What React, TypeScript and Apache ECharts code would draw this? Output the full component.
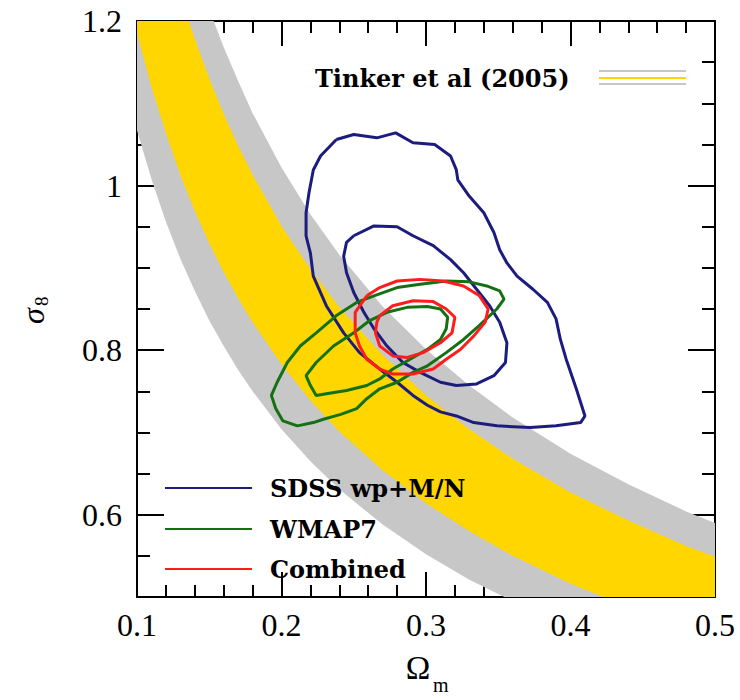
import React, { useEffect, useRef } from "react";
import * as echarts from "echarts";

// Omega_m grid on which the Tinker et al (2005) band edges are tabulated
const omegaGrid = [0.10, 0.11, 0.12, 0.13, 0.14, 0.15, 0.16, 0.17, 0.18, 0.20, 0.22, 0.24, 0.27, 0.30, 0.33, 0.36, 0.40, 0.44, 0.48, 0.50];
// sigma_8 at the edges of the outer (grey) and inner (yellow) bands
const grayLower = [1.067, 1.008, 0.956, 0.911, 0.872, 0.836, 0.805, 0.776, 0.750, 0.704, 0.665, 0.631, 0.588, 0.552, 0.521, 0.495, 0.464, 0.439, 0.416, 0.406];
const yellowLower = [1.186, 1.120, 1.064, 1.013, 0.969, 0.930, 0.895, 0.863, 0.834, 0.783, 0.739, 0.701, 0.654, 0.614, 0.580, 0.550, 0.516, 0.488, 0.463, 0.452];
const yellowUpper = [1.441, 1.361, 1.292, 1.231, 1.178, 1.130, 1.087, 1.048, 1.013, 0.951, 0.898, 0.852, 0.794, 0.745, 0.704, 0.668, 0.627, 0.593, 0.562, 0.549];
const grayUpper = [1.549, 1.463, 1.388, 1.323, 1.265, 1.214, 1.168, 1.127, 1.088, 1.022, 0.965, 0.916, 0.853, 0.801, 0.757, 0.718, 0.674, 0.637, 0.604, 0.590];

// Confidence contours, [Omega_m, sigma_8]
const sdssOuter = [[0.238, 1.056], [0.250, 1.062], [0.266, 1.058], [0.279, 1.064], [0.291, 1.052], [0.306, 1.050], [0.317, 1.036], [0.321, 1.019], [0.322, 1.007], [0.330, 0.987], [0.340, 0.967], [0.347, 0.943], [0.351, 0.922], [0.356, 0.906], [0.363, 0.890], [0.374, 0.874], [0.384, 0.858], [0.390, 0.838], [0.393, 0.813], [0.397, 0.789], [0.404, 0.753], [0.410, 0.720], [0.407, 0.712], [0.390, 0.708], [0.372, 0.706], [0.349, 0.708], [0.333, 0.712], [0.321, 0.720], [0.310, 0.725], [0.301, 0.733], [0.291, 0.745], [0.280, 0.761], [0.268, 0.777], [0.254, 0.797], [0.243, 0.821], [0.231, 0.854], [0.222, 0.890], [0.220, 0.918], [0.217, 0.939], [0.217, 0.967], [0.219, 0.991], [0.222, 1.019], [0.227, 1.036], [0.238, 1.056]];
const sdssInner = [[0.250, 0.939], [0.264, 0.951], [0.280, 0.950], [0.291, 0.939], [0.305, 0.927], [0.317, 0.910], [0.326, 0.894], [0.335, 0.874], [0.344, 0.854], [0.351, 0.834], [0.356, 0.809], [0.355, 0.785], [0.347, 0.769], [0.335, 0.759], [0.321, 0.757], [0.310, 0.761], [0.296, 0.773], [0.284, 0.785], [0.273, 0.805], [0.264, 0.826], [0.257, 0.846], [0.250, 0.870], [0.245, 0.894], [0.243, 0.914], [0.245, 0.931], [0.250, 0.939]];
const wmapOuter = [[0.264, 0.866], [0.280, 0.876], [0.296, 0.880], [0.314, 0.884], [0.330, 0.883], [0.342, 0.878], [0.351, 0.872], [0.354, 0.862], [0.349, 0.850], [0.337, 0.830], [0.326, 0.813], [0.314, 0.797], [0.301, 0.781], [0.291, 0.773], [0.280, 0.761], [0.268, 0.753], [0.259, 0.741], [0.252, 0.729], [0.241, 0.722], [0.229, 0.716], [0.222, 0.712], [0.211, 0.708], [0.201, 0.714], [0.196, 0.729], [0.193, 0.745], [0.197, 0.761], [0.204, 0.785], [0.213, 0.805], [0.224, 0.821], [0.238, 0.842], [0.252, 0.858], [0.264, 0.866]];
const wmapInner = [[0.273, 0.846], [0.287, 0.852], [0.301, 0.853], [0.310, 0.850], [0.315, 0.840], [0.314, 0.826], [0.310, 0.813], [0.301, 0.801], [0.289, 0.789], [0.277, 0.777], [0.268, 0.765], [0.259, 0.757], [0.245, 0.751], [0.231, 0.747], [0.224, 0.745], [0.220, 0.757], [0.217, 0.769], [0.224, 0.785], [0.236, 0.805], [0.250, 0.821], [0.261, 0.836], [0.273, 0.846]];
const combinedOuter = [[0.259, 0.866], [0.268, 0.876], [0.280, 0.884], [0.296, 0.886], [0.312, 0.884], [0.326, 0.878], [0.337, 0.866], [0.343, 0.850], [0.341, 0.834], [0.333, 0.817], [0.324, 0.801], [0.314, 0.789], [0.305, 0.777], [0.291, 0.771], [0.277, 0.771], [0.268, 0.777], [0.259, 0.789], [0.254, 0.805], [0.251, 0.821], [0.251, 0.846], [0.259, 0.866]];
const combinedInner = [[0.268, 0.842], [0.277, 0.854], [0.291, 0.860], [0.305, 0.859], [0.314, 0.850], [0.320, 0.840], [0.318, 0.821], [0.310, 0.809], [0.298, 0.797], [0.287, 0.791], [0.277, 0.793], [0.268, 0.805], [0.265, 0.821], [0.266, 0.834], [0.268, 0.842]];

const xTicks = [0.1, 0.2, 0.3, 0.4, 0.5];
const yMajorTicks = [0.6, 0.8, 1, 1.2];

const legendNames = ["SDSS wp+M/N", "WMAP7", "Combined"];
const bandLabel = "Tinker et al (2005)";

const BLUE = "#1c1c7e";
const GREEN = "#137013";
const RED = "#ff1c1c";
const GREY = "#c7c7c7";
const YELLOW = "#ffd600";

const LABEL_FONT = "Liberation Serif";
const LEGEND_FONT = "DejaVu Serif";

function bandSeries(upper: number[], lower: number[], color: string) {
  return {
    type: "custom",
    coordinateSystem: "cartesian2d",
    clip: true,
    silent: true,
    z: 1,
    data: [[0.3, 0.8]],
    renderItem: (params: any, api: any) => {
      const pts: number[][] = [];
      for (let i = 0; i < omegaGrid.length; i++) pts.push(api.coord([omegaGrid[i], upper[i]]));
      for (let i = omegaGrid.length - 1; i >= 0; i--) pts.push(api.coord([omegaGrid[i], lower[i]]));
      const cs = params.coordSys;
      return {
        type: "polygon",
        shape: { points: pts },
        style: { fill: color },
        clipPath: { type: "rect", shape: { x: cs.x, y: cs.y, width: cs.width, height: cs.height } },
      };
    },
  };
}

function contour(name: string, data: number[][], color: string) {
  return {
    type: "line",
    name,
    data,
    showSymbol: false,
    symbol: "none",
    smooth: false,
    clip: true,
    z: 3,
    lineStyle: { color, width: 3 },
  };
}

const axisLine = { show: true, onZero: false, lineStyle: { color: "#000", width: 2 } };

export default function App() {
  const ref = useRef<HTMLDivElement>(null);

  useEffect(() => {
    if (!ref.current) return;
    const chart = echarts.init(ref.current, undefined, { renderer: "svg" });

    const xBase = {
      type: "value",
      min: 0.1,
      max: 0.5,
      interval: 0.1,
      axisLine,
      axisTick: { show: true, inside: true, length: 25, lineStyle: { color: "#000", width: 2 } },
      minorTick: { show: true, splitNumber: 5, length: 12, lineStyle: { color: "#000", width: 2 } },
      splitLine: { show: false },
      minorSplitLine: { show: false },
    };
    const yMajor = (position: string, labels: boolean) => ({
      type: "value",
      position,
      min: 0.5,
      max: 1.2,
      axisLine,
      axisTick: { show: true, inside: true, length: 27, customValues: yMajorTicks, lineStyle: { color: "#000", width: 2 } },
      axisLabel: labels
        ? { show: true, customValues: yMajorTicks, margin: 15, fontSize: 32, fontFamily: LABEL_FONT, color: "#000" }
        : { show: false },
      splitLine: { show: false },
    });
    const yMinor = (position: string) => ({
      type: "value",
      position,
      min: 0.5,
      max: 1.2,
      interval: 0.05,
      axisLine: { show: false },
      axisTick: { show: true, inside: true, length: 13, lineStyle: { color: "#000", width: 2 } },
      axisLabel: { show: false },
      splitLine: { show: false },
    });

    const legendX0 = 165;
    const legendX1 = 252;
    const legendTextX = 270;
    const legendY = [488, 529, 569];
    const legendColors = [BLUE, GREEN, RED];

    const graphic: any[] = [];
    legendNames.forEach((name, i) => {
      graphic.push({
        type: "line",
        shape: { x1: legendX0, y1: legendY[i], x2: legendX1, y2: legendY[i] },
        style: { stroke: legendColors[i], lineWidth: 2 },
        z: 10,
      });
      graphic.push({
        type: "text",
        x: legendTextX,
        y: legendY[i],
        style: { text: name, fontSize: 24, fontFamily: LEGEND_FONT, fontWeight: "bold", fill: "#000", verticalAlign: "middle", align: "left" },
        z: 10,
      });
    });
    graphic.push({
      type: "text",
      x: 315,
      y: 78,
      style: { text: bandLabel, fontSize: 24, fontFamily: LEGEND_FONT, fontWeight: "bold", fill: "#000", verticalAlign: "middle", align: "left" },
      z: 10,
    });
    [[71, GREY], [78, YELLOW], [84, GREY]].forEach(([y, c]) => {
      graphic.push({
        type: "line",
        shape: { x1: 599, y1: y as number, x2: 686, y2: y as number },
        style: { stroke: c as string, lineWidth: 2 },
        z: 10,
      });
    });
    // axis titles: Omega_m below, sigma_8 rotated on the left
    graphic.push({
      type: "group",
      x: 418,
      y: 668,
      children: [
        { type: "text", x: 0, y: 0, style: { text: "Ω", fontSize: 33, fontFamily: LABEL_FONT, fill: "#000", align: "center", verticalAlign: "middle" } },
        { type: "text", x: 15, y: 17, style: { text: "m", fontSize: 20, fontFamily: LABEL_FONT, fill: "#000", align: "left", verticalAlign: "middle" } },
      ],
    });
    graphic.push({
      type: "group",
      x: 33,
      y: 316,
      rotation: Math.PI / 2,
      children: [
        { type: "text", x: 0, y: 0, style: { text: "σ", fontSize: 32, fontFamily: LABEL_FONT, fontStyle: "italic", fill: "#000", align: "center", verticalAlign: "middle" } },
        { type: "text", x: 10, y: 8, style: { text: "8", fontSize: 19, fontFamily: LABEL_FONT, fill: "#000", align: "left", verticalAlign: "middle" } },
      ],
    });

    chart.setOption({
      animation: false,
      backgroundColor: "#fff",
      grid: { left: 137, right: 25, top: 21, bottom: 103, containLabel: false },
      xAxis: [
        {
          ...xBase,
          position: "bottom",
          axisLabel: {
            show: true,
            margin: 12,
            fontSize: 32,
            fontFamily: LABEL_FONT,
            color: "#000",
            showMinLabel: true,
            showMaxLabel: true,
            customValues: xTicks,
          },
        },
        { ...xBase, position: "top", axisLabel: { show: false } },
      ],
      yAxis: [yMajor("left", true), yMinor("left"), yMajor("right", false), yMinor("right")],
      series: [
        bandSeries(grayUpper, grayLower, GREY),
        bandSeries(yellowUpper, yellowLower, YELLOW),
        contour(legendNames[0], sdssOuter, BLUE),
        contour(legendNames[0], sdssInner, BLUE),
        contour(legendNames[1], wmapOuter, GREEN),
        contour(legendNames[1], wmapInner, GREEN),
        contour(legendNames[2], combinedOuter, RED),
        contour(legendNames[2], combinedInner, RED),
      ],
      graphic,
    });

    return () => chart.dispose();
  }, []);

  return <div ref={ref} style={{ position: "absolute", left: 0, top: 0, width: 740, height: 700 }} />;
}
